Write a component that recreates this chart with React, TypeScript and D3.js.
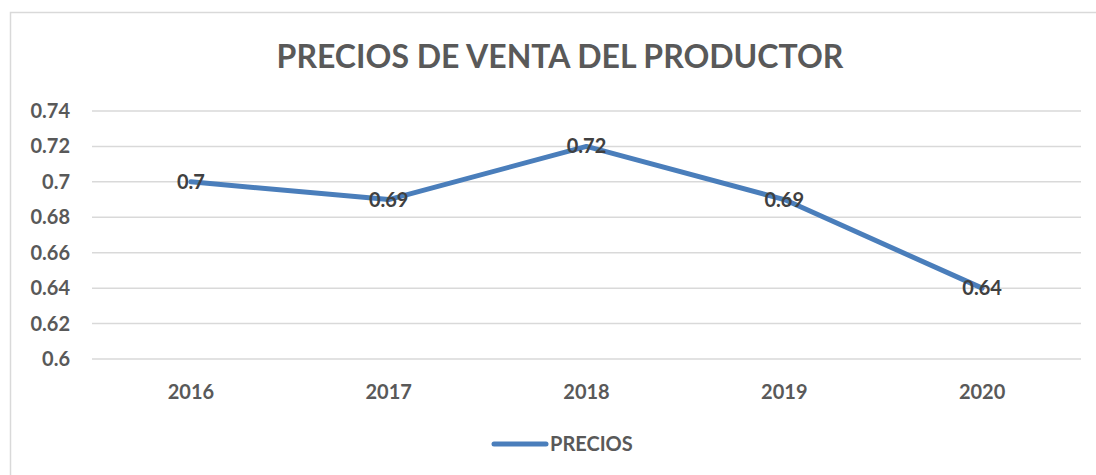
import React, { useEffect, useRef } from "react";
import * as d3 from "d3";

const years = ["2016", "2017", "2018", "2019", "2020"];
const precios = [0.7, 0.69, 0.72, 0.69, 0.64];
const yTicks = [0.6, 0.62, 0.64, 0.66, 0.68, 0.7, 0.72, 0.74];
const seriesName = "PRECIOS";
const title = "PRECIOS DE VENTA DEL PRODUCTOR";

export default function App() {
  const ref = useRef<SVGSVGElement>(null);
  useEffect(() => {
    const svg = d3.select(ref.current);
    svg.selectAll("*").remove();
    const W = 1096, H = 475;
    const font = "Lato, 'Open Sans', sans-serif";
    const left = 92, right = 1081, top = 111, bottom = 359;
    const x = d3.scaleBand().domain(years).range([left, right]);
    const y = d3.scaleLinear().domain([0.6, 0.74]).range([bottom, top]);

    svg.append("rect").attr("width", W).attr("height", H).attr("fill", "#fff");
    svg.append("rect").attr("x", 10.5).attr("y", 12.5).attr("width", W + 20).attr("height", H + 20)
      .attr("fill", "none").attr("stroke", "#D9D9D9").attr("stroke-width", 1.5);

    svg.append("text").attr("x", 560).attr("y", 68).attr("text-anchor", "middle")
      .attr("font-family", font).attr("font-weight", 700).attr("font-size", 32)
      .attr("fill", "#595959").text(title);

    svg.append("g").selectAll("line").data(yTicks).join("line")
      .attr("x1", left).attr("x2", right)
      .attr("y1", d => y(d)).attr("y2", d => y(d))
      .attr("stroke", "#D9D9D9").attr("stroke-width", 1.5);

    svg.append("g").selectAll("text").data(yTicks).join("text")
      .attr("x", 70).attr("y", d => y(d)).attr("dy", "0.35em").attr("text-anchor", "end")
      .attr("font-family", font).attr("font-weight", 700).attr("font-size", 20)
      .attr("fill", "#595959").text(d => String(+d.toFixed(2)));

    svg.append("g").selectAll("text").data(years).join("text")
      .attr("x", d => x(d)! + x.bandwidth() / 2).attr("y", 392).attr("dy", "0.35em")
      .attr("text-anchor", "middle")
      .attr("font-family", font).attr("font-weight", 700).attr("font-size", 20)
      .attr("fill", "#595959").text(d => d);

    const line = d3.line<number>()
      .x((_, i) => x(years[i])! + x.bandwidth() / 2)
      .y(d => y(d));
    svg.append("path").datum(precios).attr("d", line)
      .attr("fill", "none").attr("stroke", "#4A7EBB").attr("stroke-width", 5)
      .attr("stroke-linejoin", "round").attr("stroke-linecap", "round");

    svg.append("g").selectAll("text").data(precios).join("text")
      .attr("x", (_, i) => x(years[i])! + x.bandwidth() / 2)
      .attr("y", d => y(d)).attr("dy", "0.35em").attr("text-anchor", "middle")
      .attr("font-family", font).attr("font-weight", 700).attr("font-size", 20)
      .attr("fill", "#404040").text(d => String(d));

    svg.append("line").attr("x1", 494).attr("x2", 546).attr("y1", 444).attr("y2", 444)
      .attr("stroke", "#4A7EBB").attr("stroke-width", 5).attr("stroke-linecap", "round");
    svg.append("text").attr("x", 550).attr("y", 444).attr("dy", "0.35em")
      .attr("font-family", font).attr("font-weight", 700).attr("font-size", 20)
      .attr("fill", "#595959").text(seriesName);
  }, []);
  return (
    <svg ref={ref} width={1096} height={475}
      style={{ position: "absolute", left: 0, top: 0, display: "block" }} />
  );
}
